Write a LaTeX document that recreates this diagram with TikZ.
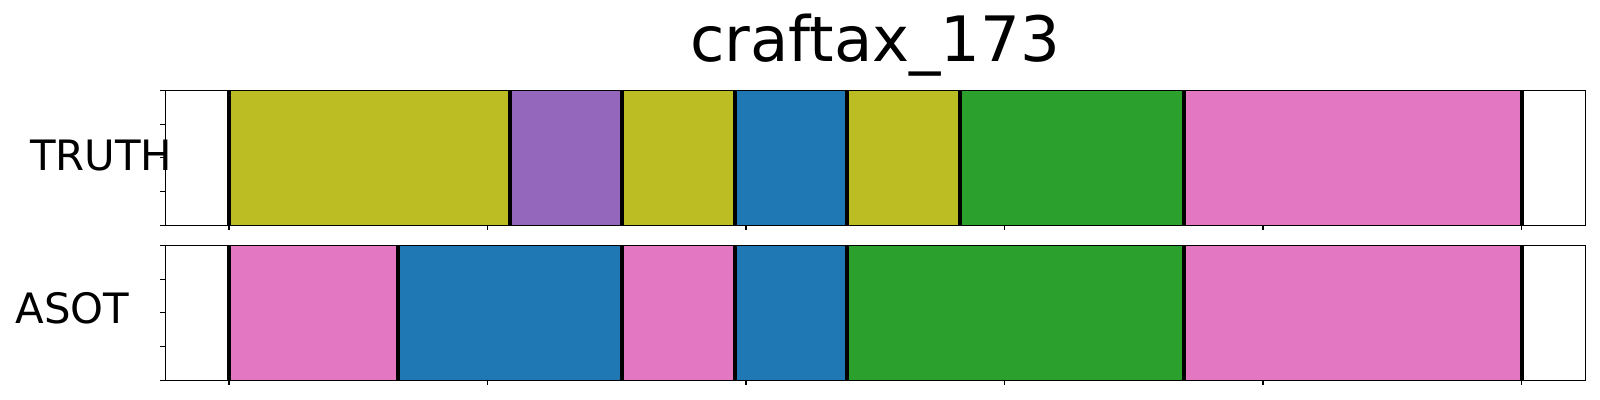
\documentclass[tikz,border=0pt]{standalone}
\usepackage{fontspec}
\setmainfont{DejaVu Sans}
\usepackage{tikz}
\usepackage{xcolor}
\definecolor{tabolive}{HTML}{BCBD22}
\definecolor{tabpurple}{HTML}{9467BD}
\definecolor{tabblue}{HTML}{1F77B4}
\definecolor{tabgreen}{HTML}{2CA02C}
\definecolor{tabpink}{HTML}{E377C2}

\begin{document}
\begin{tikzpicture}[x=0.01cm, y=-0.01cm]

% Styles
\tikzstyle{segline} = [black, line width=1.15pt]
\tikzstyle{axframe} = [black, line width=0.38pt]
\tikzstyle{axtick} = [black, line width=0.3pt]
\tikzstyle{rowlabel} = [font=\fontsize{11.9}{14}\selectfont, anchor=base west, inner sep=0pt]

\useasboundingbox (0,0) rectangle (1600,400);

% Dimensions des axes
\def\xL{165.3}
\def\xR{1585.3}
\def\xO{229}
\def\pas{112.4}
\def\yTa{90.3}
\def\yTb{225.3}
\def\yAa{245.3}
\def\yAb{380.3}

% Titre
\node[font=\fontsize{17.8}{20}\selectfont, anchor=base, inner sep=0pt] (titre) at (875.3, 61.7) {craftax\_173};

% Ligne TRUTH
\foreach \a/\b/\c in {0/2.5/tabolive, 2.5/3.5/tabpurple, 3.5/4.5/tabolive, 4.5/5.5/tabblue, 5.5/6.5/tabolive, 6.5/8.5/tabgreen, 8.5/11.5/tabpink}
  \fill[\c] (\xO+\a*\pas, \yTa) rectangle (\xO+\b*\pas, \yTb);
\foreach \a in {0,2.5,3.5,4.5,5.5,6.5,8.5,11.5}
  \draw[segline] (\xO+\a*\pas, \yTa) -- (\xO+\a*\pas, \yTb);

% Ligne ASOT
\foreach \a/\b/\c in {0/1.5/tabpink, 1.5/3.5/tabblue, 3.5/4.5/tabpink, 4.5/5.5/tabblue, 5.5/8.5/tabgreen, 8.5/11.5/tabpink}
  \fill[\c] (\xO+\a*\pas, \yAa) rectangle (\xO+\b*\pas, \yAb);
\foreach \a in {0,1.5,3.5,4.5,5.5,8.5,11.5}
  \draw[segline] (\xO+\a*\pas, \yAa) -- (\xO+\a*\pas, \yAb);

% Cadres et graduations
\foreach \ya/\yb in {\yTa/\yTb, \yAa/\yAb} {
  \draw[axframe] (\xL, \ya) rectangle (\xR, \yb);
  \foreach \k in {0,...,5}
    \draw[axtick] (\xO+\k*258.5, \yb) -- ++(0,5);
  \foreach \k in {0,...,4}
    \draw[axtick] (\xL, \ya+\k*33.75) -- ++(-5,0);
}

% Etiquettes des lignes
\node[rowlabel] (lbl-truth) at (29.3, 170) {TRUTH};
\node[rowlabel] (lbl-asot) at (15, 323.3) {ASOT};

\end{tikzpicture}
\end{document}
